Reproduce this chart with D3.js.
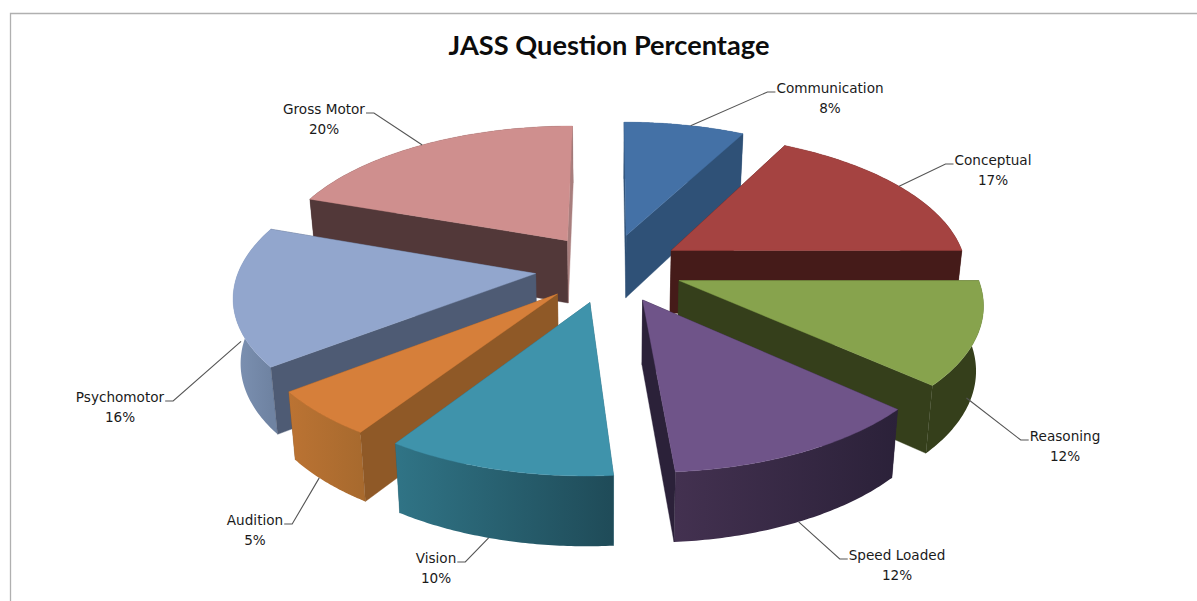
<!DOCTYPE html>
<html><head><meta charset="utf-8">
<script src="https://cdnjs.cloudflare.com/ajax/libs/d3/7.8.5/d3.min.js"></script>
<style>html,body{margin:0;background:#fff}svg{display:block}</style></head>
<body><svg id="c" width="1197" height="601"></svg>
<script>
const categories = ["Communication","Conceptual","Reasoning","Speed Loaded","Vision","Audition","Psychomotor","Gross Motor"];
const values = [7.7,17.3,11.7,12.1,10.45,5.25,15.9,19.6];
const topColors = ["#4471a6","#a54341","#87a34d","#6f5489","#3f93ab","#d67f3a","#92a6cd","#cf8f8e"];
const startWallColors = ["#2f5177","#451b19","#353f1b","#2b2139","#2a6374","#8f5927","#4e5b74","#523839"];
const endWallColors = ["#2f5177","#451b19","#353f1b","#2b2139","#2a6374","#8f5927","#4e5b74","#a87e7d"];
const rimFrom = ["#2f5177","#451b19","#353f1b","#433150","#307486","#bb7333","#7d92b3","#523839"];
const rimTo   = ["#2f5177","#451b19","#353f1b","#2b2139","#1f4b58","#a86a2e","#6f83a2","#523839"];
const labelAnchors = [[830,88],[993,160],[1065,436],[897,555],[436,558],[255,520],[120,397],[324,109]];
const leaderSide = [1,1,1,1,-1,-1,-1,-1];
const leaderDrop = [0,0,0.8,1,1,1,0.2,0];
const leaderAlong = [0.55,0.5,0.6,0.5,0.55,0.6,0.28,0.5];
const paintOrder = [7,0,1,2,6,5,4,3];

const cx=609,cy=268,rx=296,ry=138,k=0.1415,explode=0.25;
const svg=d3.select("#c");
const defs=svg.append("defs");
svg.append("path").attr("d",`M10.5 601V13.5H1197`).attr("fill","none").attr("stroke","#b0b0b0").attr("stroke-width",1.3);
svg.append("text").attr("x",609).attr("y",55).attr("text-anchor","middle")
  .attr("font-family","Lato, 'Open Sans', sans-serif").attr("font-weight",700).attr("font-size",27.2).attr("fill","#0c0c0c")
  .text("JASS Question Percentage");

const pie=d3.pie().sort(null).value(d=>d)(values);
// world point → screen; drop 0 = top face, 1 = bottom face
function project(wx,wz,drop){
  const s=1/(1-k*wz);
  const X=cx+rx*wx*s, Y=cy+ry*wz*s;
  const depth=63.5+5.5*wz;
  return [cx+(X-cx)*(1-0.02*drop), Y+depth*drop];
}
function slicePts(p,drop,a){
  const m=(p.startAngle+p.endAngle)/2;
  const ox=explode*Math.sin(m), oz=-explode*Math.cos(m);
  return project(ox+Math.sin(a),oz-Math.cos(a),drop);
}
function apex(p,drop){
  const m=(p.startAngle+p.endAngle)/2;
  return project(explode*Math.sin(m),-explode*Math.cos(m),drop);
}
const line=d3.line();
function arcPts(p,drop){
  return d3.range(0,61).map(i=>slicePts(p,drop,p.startAngle+(p.endAngle-p.startAngle)*i/60));
}
paintOrder.forEach(i=>{
  const p=pie[i], g=svg.append("g");
  const top=arcPts(p,0), bot=arcPts(p,1);
  const wall=a=>[apex(p,0),slicePts(p,0,a),slicePts(p,1,a),apex(p,1)];
  const wS=wall(p.startAngle), wE=wall(p.endAngle);
  const sVis=d3.polygonArea(wS)>0, eVis=d3.polygonArea(wE)<0;
  const quad=(q,c)=>g.append("path").attr("d",line(q)+"Z").attr("fill",c).attr("stroke",c).attr("stroke-width",.4);
  if(!sVis) quad(wS,startWallColors[i]);
  if(!eVis) quad(wE,endWallColors[i]);
  const id="rim"+i, xs=top.map(d=>d[0]);
  const gr=defs.append("linearGradient").attr("id",id).attr("gradientUnits","userSpaceOnUse")
    .attr("x1",d3.min(xs)).attr("x2",d3.max(xs)).attr("y1",0).attr("y2",0);
  gr.append("stop").attr("offset",0).attr("stop-color",rimFrom[i]);
  gr.append("stop").attr("offset",1).attr("stop-color",rimTo[i]);
  g.append("path").attr("d",line(top.concat(bot.slice().reverse()))+"Z").attr("fill",`url(#${id})`);
  if(sVis) quad(wS,startWallColors[i]);
  if(eVis) quad(wE,endWallColors[i]);
  g.append("path").attr("d",line([apex(p,0)].concat(top))+"Z").attr("fill",topColors[i]).attr("stroke",topColors[i]).attr("stroke-width",.4);
});
pie.forEach((p,i)=>{
  const a=p.startAngle+(p.endAngle-p.startAngle)*leaderAlong[i], [lx,ly]=labelAnchors[i], sd=leaderSide[i];
  const st=slicePts(p,leaderDrop[i],a);
  const t=svg.append("text").attr("text-anchor","middle").attr("font-family","'DejaVu Sans',sans-serif").attr("font-size",13.6).attr("fill","#1a1a1a");
  const first=t.append("tspan").attr("x",lx).attr("y",ly+4.5).text(categories[i]);
  t.append("tspan").attr("x",lx).attr("y",ly+24.5).text(Math.round(values[i])+"%");
  const w=first.node().getComputedTextLength();
  const ex=lx-sd*(w/2+1), ey=ly+4;
  svg.append("path").attr("d",line([st,[ex-sd*8,ey],[ex,ey]])).attr("fill","none").attr("stroke","#555").attr("stroke-width",1.1);
});
</script></body></html>
